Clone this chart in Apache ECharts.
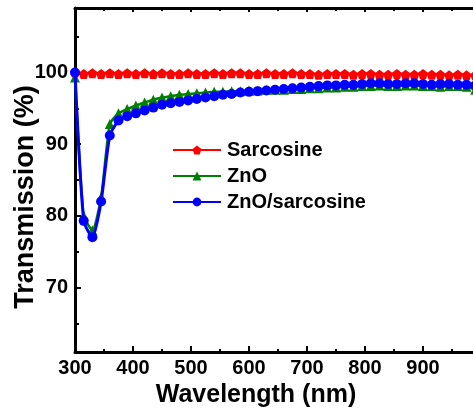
<!DOCTYPE html>
<html>
<head>
<meta charset="utf-8">
<script src="https://cdn.jsdelivr.net/npm/echarts@6/dist/echarts.min.js"></script>
<style>html,body{margin:0;padding:0;background:#fff}#c{width:473px;height:414px}</style>
</head>
<body>
<div id="c"></div>
<script>
const wavelengths = [300,315,330,345,360,375,390,405,420,435,450,465,480,495,510,525,540,555,570,585,600,615,630,645,660,675,690,705,720,735,750,765,780,795,810,825,840,855,870,885,900,915,930,945,960,975,990];
const sarcosine = [100.0,99.8,99.9,99.8,99.9,99.8,99.9,99.8,99.9,99.8,99.9,99.8,99.8,99.9,99.8,99.8,99.9,99.8,99.9,99.9,99.8,99.8,99.9,99.8,99.8,99.9,99.8,99.8,99.7,99.8,99.8,99.8,99.7,99.8,99.8,99.7,99.7,99.8,99.7,99.7,99.8,99.7,99.7,99.6,99.7,99.6,99.6];
const zno = [99.3,80.0,78.0,82.6,92.8,94.3,94.9,95.4,95.8,96.2,96.5,96.7,96.9,97.0,97.1,97.2,97.3,97.3,97.4,97.4,97.5,97.5,97.6,97.6,97.6,97.7,97.7,97.8,97.8,97.9,97.9,98.0,98.0,98.1,98.1,98.2,98.1,98.1,98.2,98.2,98.1,98.1,98.0,98.1,98.1,98.0,97.6];
const znoSarcosine = [100.0,79.3,77.0,82.0,91.2,93.3,93.9,94.3,94.7,95.1,95.5,95.7,95.9,96.1,96.3,96.5,96.7,96.9,97.0,97.2,97.3,97.4,97.5,97.6,97.7,97.8,97.9,98.0,98.1,98.2,98.2,98.3,98.3,98.4,98.5,98.5,98.4,98.4,98.5,98.5,98.4,98.3,98.4,98.4,98.3,98.3,98.2];
const yMajorTicks = [70,80,90,100];
const yMinorTicks = [65,75,85,95,105];
const xTickLabels = [300,400,500,600,700,800,900];
const seriesNames = ['Sarcosine','ZnO','ZnO/sarcosine'];

const pentagon = 'path://M0,-1L0.951,-0.309L0.588,0.809L-0.588,0.809L-0.951,-0.309Z';
const FONT = 'Liberation Sans';
const chart = echarts.init(document.getElementById('c'), null, {renderer:'canvas'});
const pairs = arr => wavelengths.map((w,i)=>[w, arr[i]]);
const axisLine = {show:true, lineStyle:{color:'#000', width:3}};
chart.setOption({
  animation:false,
  backgroundColor:'#fff',
  grid:{left:75, top:8, width:406, height:344, containLabel:false, outerBoundsMode:'none'},
  legend:{
    data:seriesNames, orient:'vertical', left:172, top:140, padding:0,
    itemWidth:48, itemHeight:11, itemGap:6,
    textStyle:{fontFamily:FONT, fontWeight:'bold', fontSize:20, color:'#000', padding:[0,0,0,1]}
  },
  xAxis:[{
    type:'value', min:300, max:1000, interval:100, position:'bottom',
    axisLine:axisLine,
    axisTick:{show:true, inside:true, length:6, lineStyle:{color:'#000', width:2}},
    minorTick:{show:true, splitNumber:2, length:3, lineStyle:{color:'#000', width:2}},
    splitLine:{show:false}, minorSplitLine:{show:false},
    axisLabel:{customValues:xTickLabels, fontFamily:FONT, fontWeight:'bold', fontSize:20, color:'#000', margin:6, formatter:v=>String(v)},
    name:'Wavelength (nm)', nameLocation:'middle', nameGap:31, nameMoveOverlap:false,
    nameTextStyle:{fontFamily:FONT, fontWeight:'bold', fontSize:25, color:'#000', padding:[0,44,0,0]}
  },{
    type:'value', min:300, max:1000, interval:100, position:'top',
    axisLine:axisLine,
    axisTick:{show:true, inside:true, length:4, lineStyle:{color:'#000', width:2}},
    minorTick:{show:true, splitNumber:2, length:3, lineStyle:{color:'#000', width:2}},
    splitLine:{show:false}, axisLabel:{show:false}
  }],
  yAxis:[{
    type:'value', min:61, max:109, position:'left',
    axisLine:axisLine,
    axisTick:{show:true, inside:true, length:6, customValues:yMajorTicks, lineStyle:{color:'#000', width:2}},
    splitLine:{show:false},
    axisLabel:{customValues:yMajorTicks, fontFamily:FONT, fontWeight:'bold', fontSize:20, color:'#000', margin:7},
    name:'Transmission (%)', nameLocation:'middle', nameGap:36, nameMoveOverlap:false,
    nameTextStyle:{fontFamily:FONT, fontWeight:'bold', fontSize:27, color:'#000', padding:[0,34,0,0]}
  },{
    type:'value', min:61, max:109, position:'left', offset:0,
    axisLine:{show:false},
    axisTick:{show:true, inside:true, length:4, customValues:yMinorTicks, lineStyle:{color:'#000', width:2}},
    splitLine:{show:false}, axisLabel:{show:false}
  }],
  series:[{
    name:seriesNames[0], type:'line', data:pairs(sarcosine), xAxisIndex:0, yAxisIndex:0,
    symbol:pentagon, symbolSize:10, smooth:0.2,
    lineStyle:{color:'#ff0000', width:2}, itemStyle:{color:'#ff0000'}, z:3
  },{
    name:seriesNames[1], type:'line', data:pairs(zno), xAxisIndex:0, yAxisIndex:0,
    symbol:'triangle', symbolSize:10, smooth:0.2,
    lineStyle:{color:'#008000', width:2.5}, itemStyle:{color:'#008000'}, z:2
  },{
    name:seriesNames[2], type:'line', data:pairs(znoSarcosine), xAxisIndex:0, yAxisIndex:0,
    symbol:'circle', symbolSize:10, smooth:0.2,
    lineStyle:{color:'#0000ff', width:3}, itemStyle:{color:'#0000ff'}, z:4
  }]
});
</script>
</body>
</html>
